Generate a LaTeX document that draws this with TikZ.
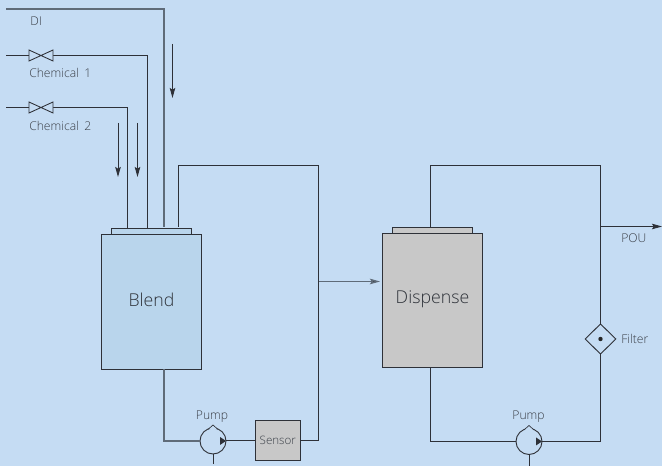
\documentclass[tikz,border=0pt]{standalone}
\usepackage{fontspec}
\setmainfont{Open Sans Light}[BoldFont={Open Sans},WordSpace=1.7]
\usetikzlibrary{arrows.meta,shapes.geometric,calc}
\definecolor{bgblue}{HTML}{C5DCF3}
\definecolor{tankblue}{HTML}{B9D5EC}
\definecolor{tankgrey}{HTML}{C8C8C8}
\definecolor{linedark}{HTML}{2E3138}
\definecolor{linegrey}{HTML}{5F6B78}
\definecolor{txt}{HTML}{3A3F47}
\tikzset{
 x=0.75pt,y=-0.75pt,
 pipe/.style={draw=linedark,line width=0.75pt,line join=miter},
 pipeg/.style={draw=linegrey,line width=0.95pt,line join=miter},
 flow/.style={draw=linedark,line width=0.7pt,-{Stealth[length=7.6pt,width=4.2pt,inset=1.4pt]}},
 tank/.style={draw=linedark,line width=0.75pt,minimum width=75pt,inner sep=0pt,outer sep=0pt},
 lid/.style={draw=linedark,line width=0.75pt,minimum width=60pt,minimum height=4.5pt,inner sep=0pt,outer sep=0pt},
 pumpc/.style={circle,draw=linedark,line width=0.7pt,fill=bgblue,minimum size=19.5pt,inner sep=0pt,outer sep=0pt},
 lbl/.style={text=txt,font=\fontsize{9.1pt}{10pt}\selectfont,inner sep=0pt,anchor=base west},
 big/.style={text=txt!80!black,font=\fontsize{13.3pt}{15pt}\selectfont,inner sep=0pt},
 valve/.style={draw=linedark,line width=0.65pt,fill=bgblue,line join=miter},
}
\newcommand{\valvesym}[2]{\draw[valve] (#1,#2-5.5) -- (#1+24,#2+5.5) -- (#1+24,#2-5.5) -- (#1,#2+5.5) -- cycle;}
\newcommand{\pumpmarks}[1]{%
 \draw[linedark,line width=0.5pt,fill=bgblue] ($(#1.center)+(-5,-11.5)$) -- ($(#1.center)+(0,-16)$) -- ($(#1.center)+(5,-11.5)$);%
 \fill[linedark] ($(#1.center)+(13,0)$) -- ($(#1.center)+(7,-4)$) -- ($(#1.center)+(7,4)$) -- cycle;}
\begin{document}
\begin{tikzpicture}
\useasboundingbox (0,0) rectangle (662,466);
\fill[bgblue] (0,0) rectangle (662,466);
% blend
\node[tank,fill=tankblue,minimum height=101.25pt] (blend) at (151.5,302) {};
\node[lid,fill=tankblue] (blendlid) at (151.5,231.5) {};
\node[big] (blendt) at (151.5,300) {Blend};
% dispense
\node[tank,fill=tankgrey,minimum height=100.5pt] (disp) at (432.5,300.5) {};
\node[lid,fill=tankgrey] (displid) at (432.5,230.5) {};
\node[big] (dispt) at (432.5,299) {Dispense};
% pumps and sensor
\node[pumpc] (p1) at (213,441) {};
\node[pumpc] (p2) at (529,441.5) {};
\node[draw=linedark,line width=0.8pt,fill=tankgrey,minimum width=34pt,minimum height=29.5pt,inner sep=0pt,outer sep=0pt,text=txt,font=\fontsize{8.7pt}{9pt}\selectfont] (sensor) at (277.8,440.5) {Sensor};
\node[diamond,draw=linedark,line width=0.7pt,fill=bgblue,minimum width=23pt,minimum height=22.5pt,inner sep=0pt,outer sep=0pt,aspect=1] (filter) at (600.5,339) {};
\fill[black!85] (filter.center) circle[radius=2.2];
% coordinates
\coordinate (diS) at (6,9);
\coordinate (diC) at (164,9);
\coordinate (diE) at (164,227);
\coordinate (c1S) at (6,55.5);
\coordinate (c1C) at (147,55.5);
\coordinate (c1E) at (147,228.5);
\coordinate (c2S) at (6,107.5);
\coordinate (c2C) at (127.5,107.5);
\coordinate (c2E) at (127.5,228.5);
\coordinate (retS) at (178.5,227);
\coordinate (pou) at (662,226.5);
% inlet lines
\draw[pipeg] (diS) -- (diC) -- (diE);
\draw[pipe] (c1S) -- (c1C) -- (c1E);
\draw[pipe] (c2S) -- (c2C) -- (c2E);
\valvesym{29}{55.5}
\valvesym{29}{107.5}
% recirc
\draw[pipe] (retS) |- (318.5,165.5) -- (318.5,441) -- (sensor.east |- 0,441);
\draw[pipeg] (blend.south -| 164,0) -- (164,441) -- (p1.west);
\draw[pipe] (p1.east) -- (sensor.west |- p1.east);
\draw[pipe] (p1.south) -- (213,464);
\draw[pipeg,-{Stealth[length=7.6pt,width=4.2pt,inset=1.4pt,fill=linedark]}] (318.5,281.5) -- (380,281.5);
% dispense loop
\draw[pipe] (430,227.5) |- (600.5,165.5) -- (filter.north);
\draw[pipe] (430,367.5) |- (p2.west);
\draw[pipe] (p2.east) -| (filter.south);
\draw[pipe] (p2.south) -- (529,466);
\draw[flow] (600.5,226.5) -- (pou);
% flow arrows
\draw[flow] (172.5,44) -- (172.5,98);
\draw[flow] (118,123) -- (118,177);
\draw[flow] (137.5,123) -- (137.5,177);
\pumpmarks{p1}
\pumpmarks{p2}
% labels
\node[lbl] (tdi) at (30,26) {DI};
\node[lbl] (tc1) at (29,78) {Chemical 1};
\node[lbl] (tc2) at (29,131) {Chemical 2};
\node[lbl,anchor=base] (tp1) at (212,419.5) {Pump};
\node[lbl,anchor=base] (tp2) at (528.5,419.5) {Pump};
\node[lbl] (tpou) at (621,243) {POU};
\node[lbl] (tf) at (621,344) {Filter};
\end{tikzpicture}
\end{document}
